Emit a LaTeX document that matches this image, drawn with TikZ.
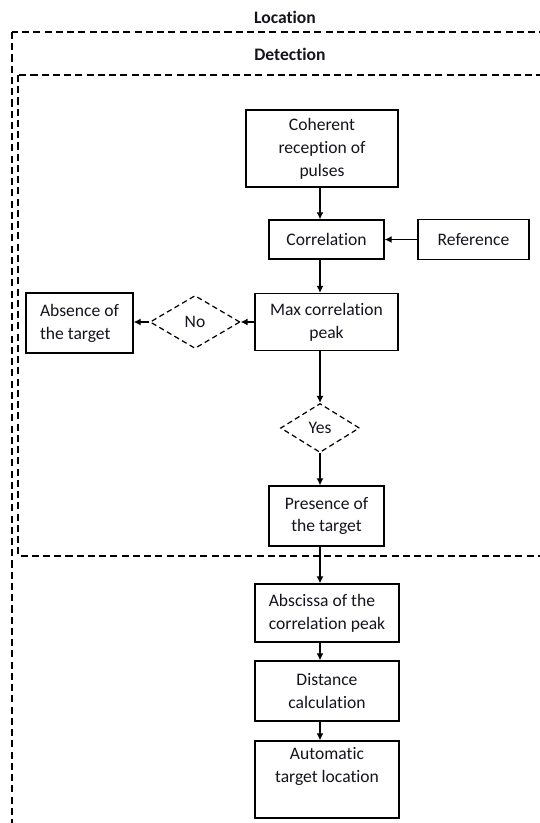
\documentclass[tikz,border=0pt]{standalone}
\usepackage{fontspec}
\setmainfont{Carlito}[Ligatures=NoCommon]
\usepackage{tikz}
\usetikzlibrary{shapes.geometric, arrows.meta, positioning, calc}
\definecolor{mydark}{RGB}{20,20,30}
\tikzset{
  box/.style={rectangle, draw=black, fill=white, text=mydark,
    align=center, inner sep=2pt, line width=0.75pt,
    font=\fontsize{10}{13}\selectfont},
  leftbox/.style={box, align=left},
  decision/.style={diamond, draw=black, text=mydark, aspect=1.7,
    inner sep=0pt, line width=0.7pt, dash pattern=on 3pt off 2pt,
    font=\fontsize{10}{13}\selectfont},
  frame/.style={draw=black, line width=0.7pt, dash pattern=on 4pt off 2.4pt},
  title/.style={text=mydark, font=\fontsize{10}{12}\selectfont\bfseries},
  arrow/.style={-{Latex[length=4pt,width=4pt]}, line width=0.75pt, color=black}
}

\begin{document}
\begin{tikzpicture}[x=0.02cm, y=-0.02cm]
  \useasboundingbox (0,0) rectangle (540,823);
  \clip (0,0) rectangle (540,823);

  % --- Frames ---
  \node[title] (loclabel) at (285,17) {Location};
  \draw[frame] (12,32) rectangle (570,860);
  \node[title] (detlabel) at (290,54) {Detection};
  \draw[frame] (18,75) rectangle (570,556);

  % --- Detection ---
  \node[box, minimum width=3.04cm, minimum height=1.54cm] (coh) at (322,148.5) {Coherent\\reception of\\pulses};
  \node[box, minimum width=2.3cm, minimum height=0.78cm] (corr) at (326.5,239.5) {Correlation};
  \node[box, minimum width=2.22cm, minimum height=0.8cm] (ref) at (473.5,239.5) {Reference};
  \node[box, minimum width=2.86cm, minimum height=1.14cm] (maxp) at (326.5,322) {Max correlation\\peak};
  \node[decision, minimum width=1.8cm, minimum height=1.06cm] (no) at (195,322) {No};
  \node[leftbox, minimum width=2.14cm, minimum height=1.2cm] (abs) at (79.5,323) {Absence of\\the target};
  \node[decision, minimum width=1.58cm, minimum height=0.98cm] (yes) at (320,428) {Yes};
  \node[box, minimum width=2.3cm, minimum height=1.2cm] (pres) at (326.5,516) {Presence of\\the target};

  % --- Location ---
  \node[leftbox, minimum width=2.88cm, minimum height=1.16cm] (absc) at (327,613) {Abscissa of the\\correlation peak};
  \node[box, minimum width=2.88cm, minimum height=1.2cm] (dist) at (327,691) {Distance\\calculation};
  \node[box, minimum width=2.88cm, minimum height=1.54cm] (auto) at (327,779.5) {Automatic\\target location\\[4pt]};

  % --- Connectors ---
  \coordinate (spine) at (320,0);
  \draw[arrow] (coh.south -| spine) -- (corr.north -| spine);
  \draw[arrow] (ref.west) -- (corr.east);
  \draw[arrow] (corr.south -| spine) -- (maxp.north -| spine);
  \draw[arrow] (maxp.west) -- (no.east);
  \draw[arrow] (no.west) -- (no.west -| abs.east);
  \draw[arrow] (maxp.south -| spine) -- (yes.north);
  \draw[arrow] (yes.south) -- (pres.north -| spine);
  \draw[arrow] (pres.south -| spine) -- (absc.north -| spine);
  \draw[arrow] (absc.south -| spine) -- (dist.north -| spine);
  \draw[arrow] (dist.south -| spine) -- (auto.north -| spine);
\end{tikzpicture}
\end{document}
